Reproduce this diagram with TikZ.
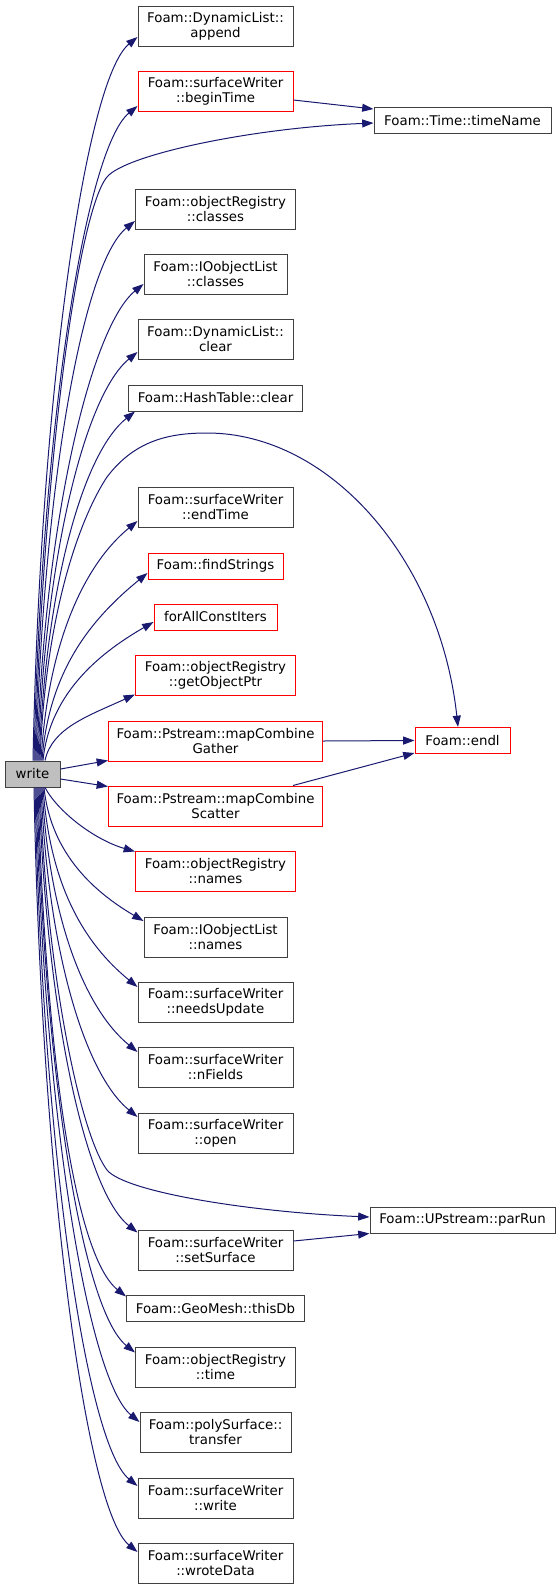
\documentclass[tikz,border=0pt]{standalone}
\usepackage{fontspec}
\setmainfont{DejaVu Sans}
\usetikzlibrary{arrows.meta,calc}
\definecolor{edgeblue}{HTML}{191970}
\definecolor{nodegray}{HTML}{BFBFBF}
\definecolor{boxline}{HTML}{404040}
\begin{document}
\begin{tikzpicture}[x=0.75pt,y=-0.75pt,
  fn/.style={draw=boxline, line width=0.75pt, fill=white, align=center, inner xsep=2pt, inner ysep=1pt,
    font=\fontsize{10}{11.5}\selectfont, minimum height=30pt},
  fnone/.style={fn, minimum height=19.5pt},
  truncnode/.style={draw=red},
  rootnode/.style={fill=nodegray, draw=boxline},
  calledge/.style={draw=edgeblue, line width=0.75pt, -{Triangle[length=8.5pt,width=6pt]}}
]
\useasboundingbox (0,0) rectangle (560,1589);

% nodes
\node[fnone, rootnode, minimum width=41.25pt] (write) at (32.5,774) {write};
\node[fn, minimum width=116.25pt] (append) at (215.5,26) {Foam::DynamicList::\\append};
\node[fn, truncnode, minimum width=116.25pt] (beginTime) at (215.5,91) {Foam::surfaceWriter\\::beginTime};
\node[fnone, minimum width=132.75pt] (timeName) at (462.5,120.5) {Foam::Time::timeName};
\node[fn, minimum width=120pt] (orClasses) at (215.5,209) {Foam::objectRegistry\\::classes};
\node[fn, minimum width=107.25pt] (iolClasses) at (215.5,274) {Foam::IOobjectList\\::classes};
\node[fn, minimum width=116.25pt] (dlClear) at (215.5,339) {Foam::DynamicList::\\clear};
\node[fnone, minimum width=130.5pt] (htClear) at (215.5,398) {Foam::HashTable::clear};
\node[fn, minimum width=116.25pt] (endTime) at (215.5,507) {Foam::surfaceWriter\\::endTime};
\node[fnone, truncnode, minimum width=101.25pt] (findStrings) at (215.5,566) {Foam::findStrings};
\node[fnone, truncnode, minimum width=92.25pt] (forAll) at (215.5,617) {forAllConstIters};
\node[fn, truncnode, minimum width=120pt] (getObjectPtr) at (215.5,675) {Foam::objectRegistry\\::getObjectPtr};
\node[fn, truncnode, minimum width=160.5pt] (gather) at (215.5,741) {Foam::Pstream::mapCombine\\Gather};
\node[fn, truncnode, minimum width=160.5pt] (scatter) at (215.5,806) {Foam::Pstream::mapCombine\\Scatter};
\node[fnone, truncnode, minimum width=71.25pt] (endl) at (462.5,740.5) {Foam::endl};
\node[fn, truncnode, minimum width=120pt] (orNames) at (215.5,871) {Foam::objectRegistry\\::names};
\node[fn, minimum width=107.25pt] (iolNames) at (215.5,937) {Foam::IOobjectList\\::names};
\node[fn, minimum width=116.25pt] (needsUpdate) at (215.5,1002) {Foam::surfaceWriter\\::needsUpdate};
\node[fn, minimum width=116.25pt] (nFields) at (215.5,1067) {Foam::surfaceWriter\\::nFields};
\node[fn, minimum width=116.25pt] (open) at (215.5,1133) {Foam::surfaceWriter\\::open};
\node[fnone, minimum width=138.75pt] (parRun) at (462.5,1220.5) {Foam::UPstream::parRun};
\node[fn, minimum width=116.25pt] (setSurface) at (215.5,1250) {Foam::surfaceWriter\\::setSurface};
\node[fnone, minimum width=133.5pt] (thisDb) at (215.5,1308.5) {Foam::GeoMesh::thisDb};
\node[fn, minimum width=120pt] (time) at (215.5,1367) {Foam::objectRegistry\\::time};
\node[fn, minimum width=113.25pt] (transfer) at (215.5,1432) {Foam::polySurface::\\transfer};
\node[fn, minimum width=116.25pt] (swWrite) at (215.5,1498) {Foam::surfaceWriter\\::write};
\node[fn, minimum width=116.25pt] (wroteData) at (215.5,1563) {Foam::surfaceWriter\\::wroteData};

\coordinate (tnBend) at (107,177);
\coordinate (elBendA) at (107,477);
\coordinate (elTop) at (207,433);
\coordinate (prBend) at (107,1170);

% upward edges
\draw[calledge] ($(write.north)+(0.5,0)$) .. controls (40,399) and (85,80) .. ($(append.west)+(0,11)$);
\draw[calledge] ($(write.north)+(1.5,0)$) .. controls (41,433) and (85,149) .. ($(beginTime.west)+(0,15)$);
\draw[calledge] ($(write.north)+(2.5,0)$) .. controls (42,480) and (77,213) .. (tnBend)
  .. controls (125,155) and (250,128) .. ($(timeName.west)+(0,2.5)$);
\draw[calledge] ($(write.north)+(3.5,0)$) .. controls (43,491) and (82,264) .. ($(orClasses.west)+(0,12)$);
\draw[calledge] ($(write.north)+(4.5,0)$) .. controls (44,522) and (91,327) .. ($(iolClasses.west)+(0,10)$);
\draw[calledge] ($(write.north)+(5.5,0)$) .. controls (45,556) and (85,395) .. ($(dlClear.west)+(0,13)$);
\draw[calledge] ($(write.north)+(6.5,0)$) .. controls (46,585) and (83,453) .. ($(htClear.south west)+(7,0)$);
\draw[calledge] ($(write.north)+(7.5,0)$) .. controls (46,600) and (85,510) .. (elBendA)
  .. controls (135,440) and (170,433) .. (elTop)
  .. controls (330,433) and (440,560) .. ($(endl.north)+(-4.5,0)$);
\draw[calledge] ($(write.north)+(8.5,0)$) .. controls (48,641) and (85,564) .. ($(endTime.west)+(0,14)$);
\draw[calledge] ($(write.north)+(9.5,0)$) .. controls (49,667) and (95,616) .. ($(findStrings.west)+(0,7)$);
\draw[calledge] ($(write.north)+(10.5,0)$) .. controls (50,690) and (105,650) .. ($(forAll.west)+(0,5)$);
\draw[calledge] ($(write.north)+(12.5,0)$) .. controls (52,728) and (88,716) .. ($(getObjectPtr.south west)+(0,-1)$);
\draw[calledge] ($(write.east)+(0,-5)$) -- ($(gather.south west)+(0,-1)$);
\draw[calledge] ($(write.east)+(0,5)$) -- ($(scatter.north west)+(0,1)$);

% downward edges
\draw[calledge] ($(write.south)+(12.5,0)$) .. controls (58,812) and (95,840) .. ($(orNames.north west)+(0,1)$);
\draw[calledge] ($(write.south)+(11.5,0)$) .. controls (51,855) and (96,893) .. ($(iolNames.west)+(0,-16)$);
\draw[calledge] ($(write.south)+(10.5,0)$) .. controls (50,887) and (85,944) .. ($(needsUpdate.west)+(0,-15)$);
\draw[calledge] ($(write.south)+(9.5,0)$) .. controls (49,919) and (85,1009) .. ($(nFields.west)+(0,-15)$);
\draw[calledge] ($(write.south)+(8.5,0)$) .. controls (48,952) and (85,1074) .. ($(open.west)+(0,-16)$);
\draw[calledge] ($(write.south)+(7.5,0)$) .. controls (46,971) and (80,1134) .. (prBend)
  .. controls (125,1192) and (250,1212) .. ($(parRun.west)+(0,-3.5)$);
\draw[calledge] ($(write.south)+(6.5,0)$) .. controls (46,1010) and (85,1191) .. ($(setSurface.north west)+(0,3)$);
\draw[calledge] ($(write.south)+(5.5,0)$) .. controls (45,1042) and (73,1254) .. ($(thisDb.north west)+(0,1.5)$);
\draw[calledge] ($(write.south)+(4.5,0)$) .. controls (44,1070) and (82,1310) .. ($(time.north west)+(0,6)$);
\draw[calledge] ($(write.south)+(3.5,0)$) .. controls (43,1104) and (87,1379) .. ($(transfer.west)+(0,-10)$);
\draw[calledge] ($(write.south)+(2.5,0)$) .. controls (42,1136) and (85,1443) .. ($(swWrite.west)+(0,-12)$);
\draw[calledge] ($(write.south)+(1.5,0)$) .. controls (41,1169) and (85,1509) .. ($(wroteData.west)+(0,-11)$);

% second-level edges
\draw[calledge] ($(beginTime.east)+(0,9)$) -- ($(timeName.west)+(0,-11.5)$);
\draw[calledge] (gather.east) -- (endl.west);
\draw[calledge] ($(scatter.north east)+(-30,0)$) -- ($(endl.south west)+(0,-1)$);
\draw[calledge] ($(setSurface.east)+(0,-9)$) -- ($(parRun.south west)+(0,-0.5)$);
\end{tikzpicture}
\end{document}
